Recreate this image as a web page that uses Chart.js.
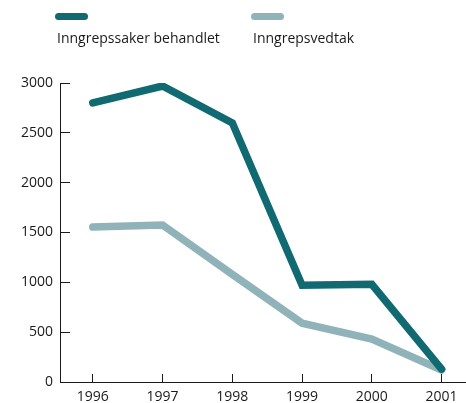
<!DOCTYPE html>
<html>
<head>
<meta charset="utf-8">
<script src="https://cdn.jsdelivr.net/npm/chart.js@4"></script>
<style>
  html, body { margin: 0; padding: 0; background: #fff; }
  #wrap { position: relative; width: 466px; height: 403px; }
  #chart { position: absolute; left: 0; top: 0; }
  .legend-item { position: absolute; top: 0; font-family: "Open Sans", sans-serif; font-size: 14px; color: #1a1a1a; }
  .legend-item .swatch { position: absolute; top: 13px; width: 33px; height: 7px; border-radius: 4px; }
  .legend-item .label { position: absolute; top: 28px; left: 2px; white-space: nowrap; }
</style>
</head>
<body>
<div id="wrap">
  <canvas id="chart" width="466" height="403"></canvas>
  <div id="legend"></div>
</div>
<script>
  // Data
  const years = [1996, 1997, 1998, 1999, 2000, 2001];
  const behandlet = [2800, 2970, 2600, 970, 980, 130];
  const vedtak = [1555, 1575, 1080, 590, 430, 120];
  const yTicks = [0, 500, 1000, 1500, 2000, 2500, 3000];

  const seriesNames = ['Inngrepssaker behandlet', 'Inngrepsvedtak'];
  const seriesColors = ['#116a72', '#8fb3b8'];
  const legendX = [55, 251];

  // Legend (html, text under the line sample)
  const legend = document.getElementById('legend');
  seriesNames.forEach(function (name, i) {
    const item = document.createElement('div');
    item.className = 'legend-item';
    item.style.left = legendX[i] + 'px';
    item.innerHTML = '<div class="swatch" style="background:' + seriesColors[i] + '"></div>' +
      '<div class="label">' + name + '</div>';
    legend.appendChild(item);
  });

  function toPoints(values) {
    return years.map(function (y, i) { return { x: y, y: values[i] }; });
  }

  function lineDataset(i, values) {
    return {
      label: seriesNames[i],
      data: toPoints(values),
      borderColor: seriesColors[i],
      borderWidth: 7.5,
      borderCapStyle: 'round',
      borderJoinStyle: 'miter',
      pointRadius: 0,
      tension: 0
    };
  }

  const ctx = document.getElementById('chart').getContext('2d');
  new Chart(ctx, {
    type: 'line',
    data: {
      datasets: [lineDataset(0, behandlet), lineDataset(1, vedtak)]
    },
    options: {
      responsive: false,
      animation: false,
      layout: { padding: { top: 83, right: 0, bottom: 0, left: 0 } },
      plugins: { legend: { display: false }, tooltip: { enabled: false } },
      scales: {
        x: {
          type: 'linear',
          min: 1995.53,
          max: 2001.35,
          afterBuildTicks: function (scale) {
            scale.ticks = years.map(function (v) { return { value: v }; });
          },
          // fixed size, no extra padding for the end labels
          afterFit: function (scale) {
            scale.height = 21;
            scale.paddingLeft = 0;
            scale.paddingRight = 0;
          },
          grid: { drawOnChartArea: false, tickLength: -8, color: '#1a1a1a', tickWidth: 1 },
          border: { color: '#1a1a1a', width: 1 },
          ticks: {
            padding: 15,
            color: '#1a1a1a',
            font: { family: 'Open Sans', size: 14 },
            maxRotation: 0,
            callback: function (v) { return String(v); }
          }
        },
        y: {
          min: 0,
          max: 3000,
          afterBuildTicks: function (scale) {
            scale.ticks = yTicks.map(function (v) { return { value: v }; });
          },
          afterFit: function (scale) {
            scale.width = 60;
            scale.paddingTop = 0;
            scale.paddingBottom = 0;
          },
          grid: { drawOnChartArea: false, tickLength: -10, color: '#1a1a1a', tickWidth: 1 },
          border: { color: '#1a1a1a', width: 1 },
          ticks: {
            padding: 17,
            color: '#1a1a1a',
            font: { family: 'Open Sans', size: 14 },
            callback: function (v) { return String(v); }
          }
        }
      }
    }
  });
</script>
</body>
</html>
